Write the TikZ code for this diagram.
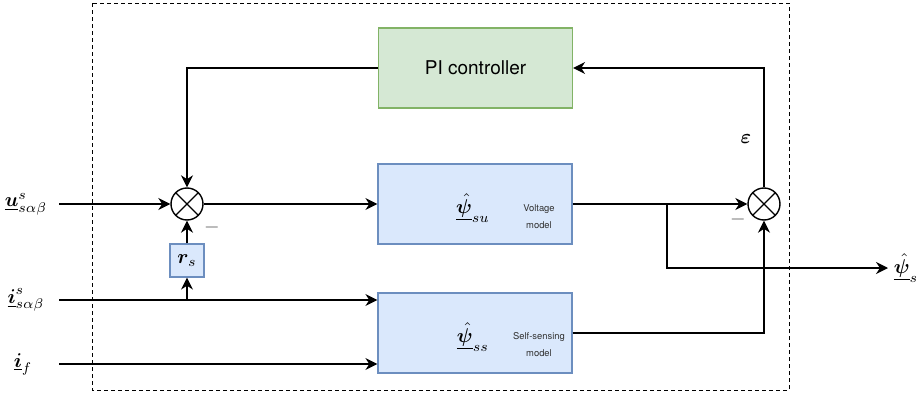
\documentclass[tikz,border=0pt]{standalone}
\usepackage{amsmath,bm}
\usepackage{fontspec}
\setsansfont{TeX Gyre Heros}
\usetikzlibrary{arrows.meta}

\definecolor{bluefill}{HTML}{DAE8FC}
\definecolor{blueline}{HTML}{6C8EBF}
\definecolor{greenfill}{HTML}{D5E8D4}
\definecolor{greenline}{HTML}{82B366}

\tikzset{
	blockbox/.style={draw=blueline,fill=bluefill,line width=.6pt,minimum width=97pt,minimum height=40pt,inner sep=0pt},
	pibox/.style={draw=greenline,fill=greenfill,line width=.6pt,minimum width=97pt,minimum height=40pt,inner sep=0pt,font=\fontsize{9.5}{11}\sffamily},
	rsbox/.style={draw=blueline,fill=bluefill,line width=.6pt,minimum width=17pt,minimum height=16.5pt,inner sep=0pt},
	mult/.style={draw,circle,minimum size=16pt,inner sep=0pt,
		path picture={\draw (path picture bounding box.north west) -- (path picture bounding box.south east)
			(path picture bounding box.north east) -- (path picture bounding box.south west);}},
	smalltxt/.style={align=center,font=\fontsize{4.7}{8.5}\sffamily,text=black!80},
	lbl/.style={inner sep=1pt},
	minus/.style={text=black!65,inner sep=0pt}
}

\begin{document}
\begin{tikzpicture}[x=.5pt,y=-.5pt,line width=.7pt,>={Stealth[length=6pt,width=6pt]}]
	\useasboundingbox (0,0) rectangle (923,396);
	
	% frame
	\draw[line width=.5pt,dash pattern=on 2pt off 1.5pt] (92,3) rectangle (789,390);
	
	% blocks
	\node[pibox] (PI) at (475.5,68) {PI controller};
	\node[blockbox] (VM) at (475,204) {};
	\node[blockbox] (SS) at (475,333) {};
	\node[rsbox] (RS) at (187,260.5) {$\bm{r}_s$};
	\node[mult] (SL) at (187,204) {};
	\node[mult] (SR) at (764,204) {};
	
	\node[lbl] (psiSU) at (473,208) {$\underline{\hat{\bm{\psi}}}_{su}$};
	\node[smalltxt] (txtVM) at (539,216.5) {Voltage\\model};
	\node[lbl] (psiSS) at (473,337) {$\underline{\hat{\bm{\psi}}}_{ss}$};
	\node[smalltxt] (txtSS) at (539,345) {Self-sensing\\model};
	
	% inputs and outputs
	\coordinate (U) at (59,204);
	\coordinate (IS) at (59,300);
	\coordinate (IF) at (59,364);
	\coordinate (J1) at (187,300);
	\coordinate (J2) at (667,204);
	\coordinate (PS) at (888,268);
	
	\node[lbl] (lu) at (26,204) {$\underline{\bm{u}}^{s}_{s\alpha\beta}$};
	\node[lbl] (lis) at (26,300) {$\underline{\bm{i}}^{s}_{s\alpha\beta}$};
	\node[lbl] (lif) at (23,364) {$\underline{\bm{i}}_{f}$};
	\node[lbl] (lps) at (906,268) {$\underline{\hat{\bm{\psi}}}_{s}$};
	\node[lbl] (eps) at (746,139) {$\bm{\varepsilon}$};
	\node[minus] (mL) at (212,227) {$-$};
	\node[minus] (mR) at (738,219) {$-$};
	
	% connectors
	\draw[->] (U) -- (SL);
	\draw[->] (SL) -- (VM);
	\draw[->] (PI.west) -| (SL.north);
	\draw[->] (IS) -- (SS.west |- IS);
	\draw[->] (IF) -- (SS.west |- IF);
	\draw[->] (J1) -- (RS);
	\draw[->] (RS) -- (SL);
	\draw[->] (VM) -- (SR);
	\draw[->] (J2) |- (PS);
	\draw[->] (SS.east) -| (SR.south);
	\draw[->] (SR.north) |- (PI.east);
\end{tikzpicture}
\end{document}
